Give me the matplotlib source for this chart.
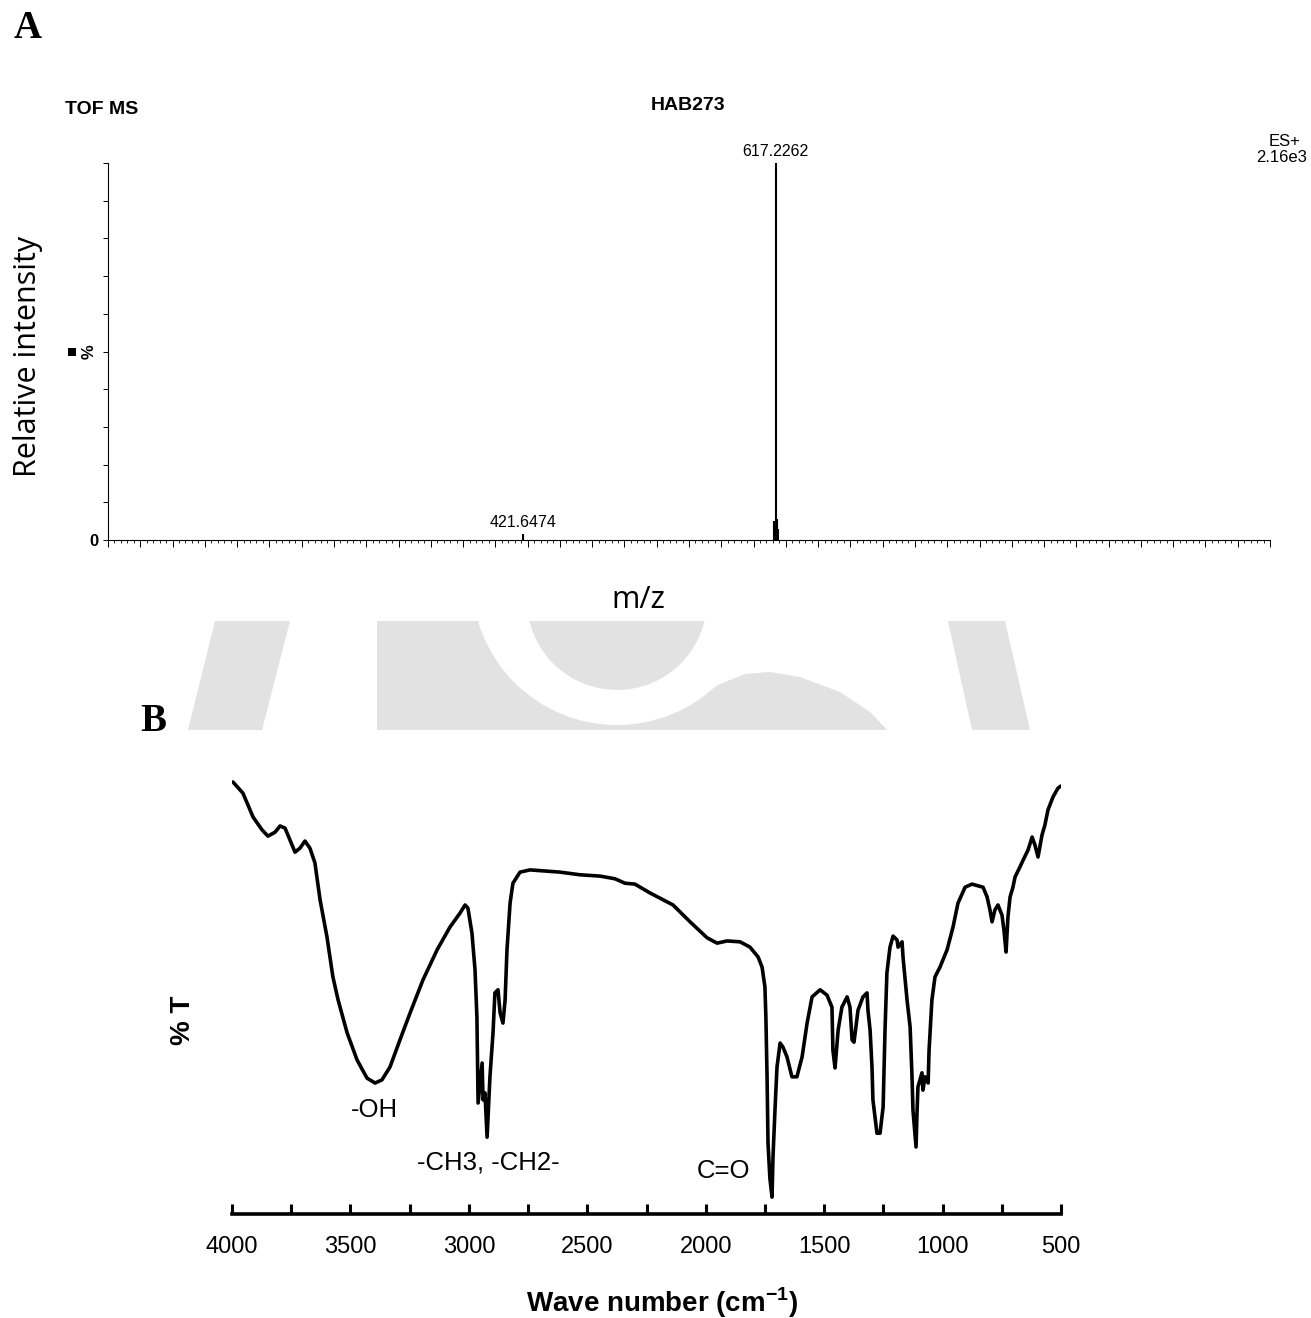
import numpy as np
import matplotlib
matplotlib.use('Agg')
import matplotlib.pyplot as plt
from matplotlib.patches import Rectangle, Circle, Polygon
from matplotlib.ticker import MultipleLocator

# ---------------- data ----------------
# Panel A: TOF MS (ES+) peaks
ms_mz = [421.6474, 616.22, 617.2262, 618.23, 619.23]
ms_int = [1.5, 5.0, 100.0, 5.5, 3.0]
ms_label_mz = [421.6474, 617.2262]
ms_label_txt = ['421.6474', '617.2262']
ms_label_int = [1.5, 100.0]

# Panel B: FTIR spectrum (wavenumber cm-1, %T)
ir_wn = [3996, 3954, 3911, 3873, 3848, 3818, 3797, 3776, 3755, 3734, 3713, 3692,
         3671, 3650, 3628, 3599, 3574, 3552, 3514, 3472, 3430, 3396, 3367, 3333,
         3291, 3248, 3194, 3134, 3080, 3037, 3016, 3004, 2987, 2974, 2966, 2961,
         2944, 2940, 2932, 2923, 2911, 2898, 2890, 2877, 2868, 2856, 2847, 2839,
         2826, 2814, 2784, 2742, 2615, 2531, 2446, 2383, 2341, 2299, 2235, 2138,
         2066, 1994, 1952, 1910, 1855, 1813, 1779, 1762, 1750, 1746, 1741, 1737,
         1729, 1720, 1716, 1707, 1699, 1686, 1674, 1657, 1636, 1615, 1593, 1572,
         1551, 1517, 1488, 1467, 1463, 1454, 1441, 1425, 1403, 1391, 1382, 1374,
         1357, 1336, 1319, 1315, 1306, 1298, 1294, 1277, 1264, 1251, 1243, 1235,
         1222, 1209, 1192, 1188, 1171, 1167, 1150, 1137, 1129, 1125, 1112, 1108,
         1104, 1087, 1083, 1074, 1061, 1057, 1045, 1032, 1011, 981, 956, 935,
         905, 876, 829, 812, 800, 791, 779, 766, 749, 741, 732, 724,
         715, 703, 694, 673, 660, 639, 622, 610, 597, 580, 568, 555,
         534, 513, 500]
ir_T = [97.3, 94.8, 89.4, 86.5, 85.1, 86.0, 87.4, 86.9, 84.2, 81.5, 82.4, 84.0,
        82.4, 79.1, 70.7, 62.4, 53.4, 48.2, 40.8, 34.7, 30.6, 29.5, 30.2, 33.1,
        39.2, 45.3, 52.7, 59.5, 64.6, 67.8, 69.6, 68.9, 63.3, 55.0, 44.4, 25.0,
        34.0, 25.7, 27.3, 17.3, 30.9, 40.8, 49.8, 50.5, 45.3, 43.0, 48.2, 59.5,
        70.0, 74.5, 77.0, 77.5, 77.0, 76.4, 76.1, 75.5, 74.5, 74.3, 72.3, 69.6,
        65.8, 62.2, 61.0, 61.5, 61.3, 60.1, 57.9, 55.6, 51.1, 44.4, 30.9, 16.0,
        8.0, 3.8, 12.8, 24.1, 33.1, 38.5, 37.6, 35.4, 30.9, 30.9, 35.4, 43.0,
        48.9, 50.5, 49.3, 46.6, 36.9, 32.9, 41.4, 46.6, 48.9, 46.6, 39.2, 38.7,
        45.9, 48.9, 49.8, 45.9, 41.4, 33.1, 25.7, 18.2, 18.2, 24.1, 41.4, 54.3,
        60.1, 62.6, 61.7, 60.1, 61.3, 57.9, 48.2, 42.1, 30.9, 23.4, 15.1, 22.7,
        28.6, 31.8, 27.9, 30.9, 29.5, 36.9, 48.2, 53.4, 55.6, 59.5, 64.6, 70.0,
        73.6, 74.3, 73.6, 71.4, 68.5, 65.8, 68.5, 69.6, 67.3, 64.0, 59.0, 66.9,
        71.4, 73.6, 75.9, 78.2, 79.7, 82.0, 84.9, 83.1, 80.4, 85.4, 87.6, 91.0,
        93.9, 95.9, 96.4]
ir_ann_txt = ['-OH', '-CH3, -CH2-', 'C=O']
ir_ann_wn = [3400, 2919, 1923]
ir_ann_T = [23.4, 11.5, 9.7]
ir_ticks = [4000, 3500, 3000, 2500, 2000, 1500, 1000, 500]

# ---------------- figure ----------------
W, H = 1311, 1318
plt.rcParams['mathtext.fontset'] = 'custom'
plt.rcParams['mathtext.rm'] = 'Liberation Sans'
plt.rcParams['mathtext.bf'] = 'Liberation Sans:bold'
plt.rcParams['font.family'] = ['Liberation Sans', 'DejaVu Sans']

fig = plt.figure(figsize=(W / 100, H / 100), dpi=100)
fig.patch.set_facecolor('white')


def fx(x):
    return x / W


def fy(y):
    return 1 - y / H


# --- background watermark (light grey band between panels) ---
bg = fig.add_axes([0, 0, 1, 1], zorder=-10)
bg.set_xlim(0, W)
bg.set_ylim(H, 0)
bg.axis('off')
gray = '#e2e2e2'
clip = Rectangle((117, 621), 993, 109, transform=bg.transData, facecolor='none', edgecolor='none')
bg.add_patch(clip)
shapes = [
    Polygon([(215, 621), (290, 621), (262, 730), (188, 730)], closed=True, fc=gray, ec='none'),
    Rectangle((377, 621), 528, 109, fc=gray, ec='none'),
    Polygon([(905, 615), (905, 735), (892, 735), (870, 712), (840, 692), (800, 677), (770, 672),
             (745, 674), (720, 684), (695, 698), (672, 712), (660, 615)], closed=True, fc='white', ec='none'),
    Circle((617, 580), 145, fc='white', ec='none'),
    Circle((617, 600), 90, fc=gray, ec='none'),
    Polygon([(948, 621), (1005, 621), (1030, 730), (972, 730)], closed=True, fc=gray, ec='none'),
]
for s in shapes:
    bg.add_patch(s)
    s.set_clip_path(clip)

# ---------------- Panel A ----------------
axA = fig.add_axes([fx(108), fy(540), fx(1270) - fx(108), fy(163) - fy(540)])
axA.set_facecolor('none')
axA.vlines(ms_mz, 0, ms_int, color='black', lw=1.5)
axA.set_xlim(100, 1000)
axA.set_ylim(0, 100)
for sp in ['top', 'right']:
    axA.spines[sp].set_visible(False)
for sp in ['left', 'bottom']:
    axA.spines[sp].set_linewidth(0.8)
axA.xaxis.set_major_locator(MultipleLocator(25))
axA.xaxis.set_minor_locator(MultipleLocator(5))
axA.tick_params(axis='x', which='major', length=5, width=0.7, labelbottom=False)
axA.tick_params(axis='x', which='minor', length=2.5, width=0.6)
axA.set_yticks(np.arange(0, 101, 10))
axA.set_yticklabels(['0'] + [''] * 10)
axA.tick_params(axis='y', length=3.5, width=0.7, labelsize=12, pad=3)
for lab in axA.get_yticklabels():
    lab.set_fontweight('bold')
for m, t, v in zip(ms_label_mz, ms_label_txt, ms_label_int):
    axA.annotate(t, xy=(m, v), xytext=(0, 3), textcoords='offset points',
                 ha='center', va='bottom', fontsize=11.5)
axA.text(-0.0095, 50, '%', transform=axA.get_yaxis_transform(), rotation=90,
         ha='right', va='center', fontsize=12, fontweight='bold')
fig.patches.append(Rectangle((fx(68), fy(356)), 8 / W, 8 / H, transform=fig.transFigure,
                             fc='black', ec='none'))

fig.text(fx(28), fy(28), 'A', fontfamily='Liberation Serif', fontweight='bold',
         fontsize=28, ha='center', va='center')
fig.text(fx(65), fy(110), 'TOF MS', fontweight='bold', fontsize=14, ha='left', va='center')
fig.text(fx(688), fy(105), 'HAB273', fontweight='bold', fontsize=14, ha='center', va='center')
fig.text(fx(1285), fy(142), 'ES+', fontsize=12, ha='center', va='center')
fig.text(fx(1307), fy(158), '2.16e3', fontsize=12, ha='right', va='center')
fig.text(fx(28), fy(356), 'Relative intensity', fontfamily='Open Sans', fontsize=22,
         rotation=90, ha='center', va='center')
fig.text(fx(638), fy(600), 'm/z', fontfamily='Open Sans', fontsize=22, ha='center', va='center')

# ---------------- Panel B ----------------
axB = fig.add_axes([fx(232), fy(1214), fx(1061) - fx(232), fy(770) - fy(1214)])
axB.set_facecolor('none')
axB.plot(ir_wn, ir_T, color='black', lw=2.6, solid_joinstyle='round', solid_capstyle='round')
axB.set_xlim(4000, 500)
axB.set_ylim(0, 100)
for sp in ['top', 'right', 'left']:
    axB.spines[sp].set_visible(False)
axB.spines['bottom'].set_linewidth(2.6)
axB.spines['bottom'].set_capstyle('projecting')
axB.set_xticks(ir_ticks)
axB.set_xticklabels([str(t) for t in ir_ticks])
axB.xaxis.set_minor_locator(MultipleLocator(250))
axB.tick_params(axis='x', which='both', direction='in', length=7, width=2.2,
                labelsize=17, pad=16)
axB.set_yticks([])
for t, w, v in zip(ir_ann_txt, ir_ann_wn, ir_ann_T):
    axB.text(w, v, t, fontsize=18.5, ha='center', va='center')

fig.text(fx(153), fy(722), 'B', fontfamily='Liberation Serif', fontweight='bold',
         fontsize=28, ha='center', va='center')
fig.text(fx(183), fy(1020), '% T', fontweight='bold', fontsize=20, rotation=90,
         ha='center', va='center')
fig.text(fx(662), fy(1303), r'Wave number (cm$^{\mathbf{-1}}$)', fontweight='bold',
         fontsize=20, ha='center', va='center')

fig.savefig('out.png', dpi=100, facecolor='white')
